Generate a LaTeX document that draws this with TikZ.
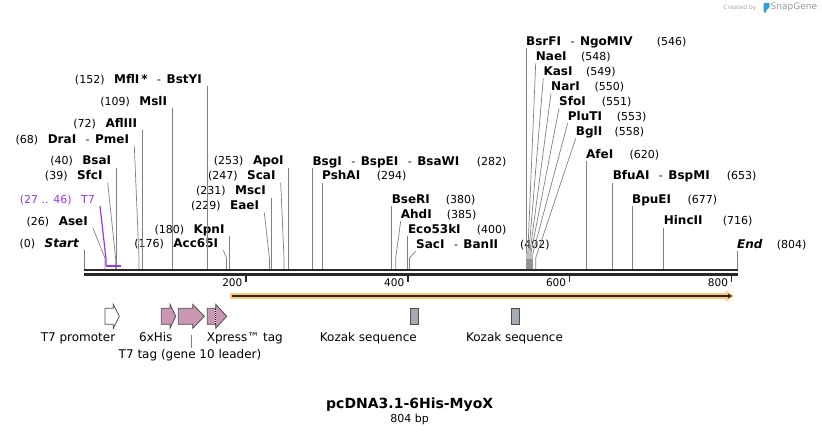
\documentclass[tikz,border=0pt]{standalone}
\usepackage{fontspec}
\setmainfont{DejaVu Sans}
\usetikzlibrary{arrows.meta}

\definecolor{cutgray}{RGB}{128,128,128}
\definecolor{bbdark}{RGB}{40,40,40}
\definecolor{t7purple}{RGB}{157,51,240}
\definecolor{featpink}{RGB}{201,151,177}
\definecolor{featedge}{RGB}{77,77,77}
\definecolor{kozakgray}{RGB}{166,170,177}
\definecolor{cdsorange}{RGB}{251,201,115}
\definecolor{snapblue}{RGB}{40,160,220}

\newcommand{\enz}[1]{{\fontsize{12}{14}\selectfont\bfseries #1}}
\newcommand{\enzsep}{\hspace{9.5pt}-\hspace{5.5pt}}

\tikzset{
  enzlab/.style={font=\fontsize{11}{13}\selectfont, text height=9pt, text depth=2pt, inner ysep=0.5pt},
  leftlab/.style={enzlab, anchor=south east, inner xsep=5pt},
  rightlab/.style={enzlab, anchor=south west, inner xsep=0pt},
  enznum/.style={enzlab, anchor=base west, inner xsep=0pt},
  cut/.style={draw=cutgray, line width=0.7pt},
  rulernum/.style={font=\fontsize{10.5}{12}\selectfont, text height=7.5pt, text depth=0pt, inner sep=0pt, anchor=east},
  featlab/.style={font=\fontsize{12}{14}\selectfont, text height=9pt, text depth=2.5pt, inner sep=1pt},
  feat/.style={draw=featedge, line width=0.8pt, fill=featpink},
}

\begin{document}
\begin{tikzpicture}[x=1pt,y=-1pt]
\useasboundingbox (0,0) rectangle (822,435);

% sites on the backbone
\coordinate (s0) at (84,270);
\coordinate (s26) at (105.0,270);
\coordinate (s39) at (115.6,270);
\coordinate (s40) at (116.4,270);
\coordinate (s68) at (139.0,270);
\coordinate (s72) at (142.3,270);
\coordinate (s109) at (172.2,270);
\coordinate (s152) at (207.0,270);
\coordinate (s176) at (226.5,270);
\coordinate (s180) at (229.7,270);
\coordinate (s229) at (269.4,270);
\coordinate (s231) at (271.0,270);
\coordinate (s247) at (284.0,270);
\coordinate (s253) at (288.8,270);
\coordinate (s282) at (312.3,270);
\coordinate (s294) at (322.0,270);
\coordinate (s380) at (391.6,270);
\coordinate (s385) at (395.7,270);
\coordinate (s400) at (407.8,270);
\coordinate (s402) at (409.4,270);
\coordinate (s546) at (526.0,270);
\coordinate (s548) at (527.6,270);
\coordinate (s549) at (528.4,270);
\coordinate (s550) at (529.2,270);
\coordinate (s551) at (530.0,270);
\coordinate (s553) at (531.6,270);
\coordinate (s558) at (535.7,270);
\coordinate (s620) at (585.9,270);
\coordinate (s653) at (612.6,270);
\coordinate (s677) at (632.0,270);
\coordinate (s716) at (663.6,270);
\coordinate (sEnd) at (737.0,270);
\coordinate (t7a) at (105.9,265.7);
\coordinate (t7b) at (121.2,265.7);

% labels left of their sites
\node[leftlab] (startlab) at (s0 |- 0,250.3) {(0)\hspace{9.5pt}\enz{\itshape Start}};
\node[leftlab] (asei) at (93,228.3) {(26)\hspace{9.5pt}\enz{AseI}};
\node[leftlab, text=t7purple] (t7lab) at (100,206) {(27 .. 46)\hspace{9.5pt}T7};
\node[leftlab] (sfci) at (107.7,182.7) {(39)\hspace{9.5pt}\enz{SfcI}};
\node[leftlab] (bsai) at (s40 |- 0,167.7) {(40)\hspace{9.5pt}\enz{BsaI}};
\node[leftlab] (drai) at (134.3,146) {(68)\hspace{9.5pt}\enz{DraI}\enzsep\enz{PmeI}};
\node[leftlab] (afliii) at (s72 |- 0,130.5) {(72)\hspace{9.5pt}\enz{AflIII}};
\node[leftlab] (msli) at (s109 |- 0,108.3) {(109)\hspace{9.5pt}\enz{MslI}};
\node[leftlab] (mfli) at (s152 |- 0,86) {(152)\hspace{9.5pt}\enz{MflI\,*}\enzsep\enz{BstYI}};
\node[leftlab] (acc65i) at (223.3,250.3) {(176)\hspace{9.5pt}\enz{Acc65I}};
\node[leftlab] (kpni) at (s180 |- 0,236) {(180)\hspace{9.5pt}\enz{KpnI}};
\node[leftlab] (eaei) at (264.3,212.7) {(229)\hspace{9.5pt}\enz{EaeI}};
\node[leftlab] (msci) at (s231 |- 0,197.7) {(231)\hspace{9.5pt}\enz{MscI}};
\node[leftlab] (scai) at (280.7,182.7) {(247)\hspace{9.5pt}\enz{ScaI}};
\node[leftlab] (apoi) at (s253 |- 0,167.7) {(253)\hspace{9.5pt}\enz{ApoI}};

% labels right of their sites
\node[rightlab] (bsgi) at (s282 |- 0,168.3) {\enz{BsgI}\enzsep\enz{BspEI}\enzsep\enz{BsaWI}};
\node[enznum] (bsginum) at (bsgi.base -| 476.7,0) {(282)};
\node[rightlab] (pshai) at (s294 |- 0,182.7) {\enz{PshAI}};
\node[enznum] (pshainum) at (pshai.base -| 376.7,0) {(294)};
\node[rightlab] (bseri) at (s380 |- 0,206) {\enz{BseRI}};
\node[enznum] (briinum) at (bseri.base -| 445.7,0) {(380)};
\node[rightlab] (ahdi) at (400.7,221) {\enz{AhdI}};
\node[enznum] (ahdinum) at (ahdi.base -| 446.7,0) {(385)};
\node[rightlab] (eco53ki) at (s400 |- 0,236) {\enz{Eco53kI}};
\node[enznum] (eco53kinum) at (eco53ki.base -| 476.7,0) {(400)};
\node[rightlab] (saci) at (416,251) {\enz{SacI}\enzsep\enz{BanII}};
\node[enznum] (sacinum) at (saci.base -| 520,0) {(402)};
\node[rightlab] (bsrfi) at (s546 |- 0,48.3) {\enz{BsrFI}\enzsep\enz{NgoMIV}};
\node[enznum] (bsrfinum) at (bsrfi.base -| 656.7,0) {(546)};
\node[rightlab] (naei) at (535.7,63.3) {\enz{NaeI}};
\node[enznum] (naeinum) at (naei.base -| 581,0) {(548)};
\node[rightlab] (kasi) at (543.3,78.3) {\enz{KasI}};
\node[enznum] (kasinum) at (kasi.base -| 586,0) {(549)};
\node[rightlab] (nari) at (551,93.3) {\enz{NarI}};
\node[enznum] (narinum) at (nari.base -| 594.3,0) {(550)};
\node[rightlab] (sfoi) at (559,108.3) {\enz{SfoI}};
\node[enznum] (sfoinum) at (sfoi.base -| 601.7,0) {(551)};
\node[rightlab] (pluti) at (567.7,123.3) {\enz{PluTI}};
\node[enznum] (plutinum) at (pluti.base -| 616.7,0) {(553)};
\node[rightlab] (bgli) at (575.7,138.3) {\enz{BglI}};
\node[enznum] (bglinum) at (bgli.base -| 614.3,0) {(558)};
\node[rightlab] (afei) at (s620 |- 0,161) {\enz{AfeI}};
\node[enznum] (afeinum) at (afei.base -| 629.3,0) {(620)};
\node[rightlab] (bfuai) at (s653 |- 0,182.7) {\enz{BfuAI}\enzsep\enz{BspMI}};
\node[enznum] (bfuainum) at (bfuai.base -| 726.7,0) {(653)};
\node[rightlab] (bpuei) at (s677 |- 0,206) {\enz{BpuEI}};
\node[enznum] (bpueinum) at (bpuei.base -| 687.3,0) {(677)};
\node[rightlab] (hincii) at (s716 |- 0,227.7) {\enz{HincII}};
\node[enznum] (hinciinum) at (hincii.base -| 722.7,0) {(716)};
\node[rightlab] (endlab) at (sEnd |- 0,251) {\enz{\itshape End}};
\node[enznum] (endnum) at (endlab.base -| 776.7,0) {(804)};

% leader lines
\draw[cut] (startlab.south east) -- (s0);
\draw[cut] (asei.south east) -- ([yshift=12pt]s26) -- (s26);
\draw[cut] (sfci.south east) -- ([yshift=12pt]s39) -- (s39);
\draw[cut] (bsai.south east) -- (s40);
\draw[cut] (drai.south east) -- ([yshift=12pt]s68) -- (s68);
\draw[cut] (afliii.south east) -- (s72);
\draw[cut] (msli.south east) -- (s109);
\draw[cut] (mfli.south east) -- (s152);
\draw[cut] (acc65i.south east) -- ([yshift=12pt]s176) -- (s176);
\draw[cut] (kpni.south east) -- (s180);
\draw[cut] (eaei.south east) -- ([yshift=12pt]s229) -- (s229);
\draw[cut] (msci.south east) -- (s231);
\draw[cut] (scai.south east) -- ([yshift=12pt]s247) -- (s247);
\draw[cut] (apoi.south east) -- (s253);
\draw[cut] (bsgi.south west) -- (s282);
\draw[cut] (pshai.south west) -- (s294);
\draw[cut] (bseri.south west) -- (s380);
\draw[cut] (ahdi.south west) -- ([yshift=12pt]s385) -- (s385);
\draw[cut] (eco53ki.south west) -- (s400);
\draw[cut] (saci.south west) -- ([yshift=12pt]s402) -- (s402);
\draw[cut] (bsrfi.south west) -- (s546);
\draw[cut] (naei.south west) -- ([yshift=12pt]s548) -- (s548);
\draw[cut] (kasi.south west) -- ([yshift=12pt]s549) -- (s549);
\draw[cut] (nari.south west) -- ([yshift=12pt]s550) -- (s550);
\draw[cut] (sfoi.south west) -- ([yshift=12pt]s551) -- (s551);
\draw[cut] (pluti.south west) -- ([yshift=12pt]s553) -- (s553);
\draw[cut] (bgli.south west) -- ([yshift=12pt]s558) -- (s558);
\draw[cut] (afei.south west) -- (s620);
\draw[cut] (bfuai.south west) -- (s653);
\draw[cut] (bpuei.south west) -- (s677);
\draw[cut] (hincii.south west) -- (s716);
\draw[cut] (endlab.south west) -- (sEnd);
\fill[gray!50] (526.3,253.5) rectangle (532.5,259);
\fill[gray!85] (526.3,259) rectangle (532.5,270);

% T7 primer site
\draw[t7purple, line width=1.2pt] (t7lab.south east) -- ([yshift=7.7pt]t7a) -- (t7a);
\draw[t7purple, line width=2pt] (t7a) -- (t7b);

% backbone and ruler
\draw[bbdark, line width=2pt] (84,270.3) -- (737.7,270.3);
\draw[bbdark, line width=3pt] (84,274.2) -- (737.7,274.2);
\draw[bbdark, line width=1.5pt] (245.9,275) -- (245.9,282.5);
\draw[bbdark, line width=1.5pt] (407.8,275) -- (407.8,282.5);
\draw[bbdark, line width=1.5pt] (569.7,275) -- (569.7,282.5);
\draw[bbdark, line width=1.5pt] (731.6,275) -- (731.6,282.5);
\node[rulernum] (r200) at (242.5,282.3) {200};
\node[rulernum] (r400) at (404.4,282.3) {400};
\node[rulernum] (r600) at (566.3,282.3) {600};
\node[rulernum] (r800) at (728.2,282.3) {800};

% ORF
\fill[cdsorange] (230,293) rectangle (726,299);
\fill[cdsorange] (726,290.5) -- (734,296) -- (726,301.5) -- cycle;
\draw[bbdark, line width=1.2pt, -{Triangle[length=4pt,width=4.5pt]}] (232,296) -- (732,296);

% features
\draw[draw=featedge, line width=0.8pt, fill=white] (105,308.3) -- (113.3,308.3) -- (113.3,304.3) -- (119.3,316.3) -- (113.3,328.3) -- (113.3,324.3) -- (105,324.3) -- cycle;
\draw[feat] (161.3,308.3) -- (170,308.3) -- (170,304.3) -- (175.7,316.3) -- (170,328.3) -- (170,324.3) -- (161.3,324.3) -- cycle;
\draw[feat] (178.3,308.3) -- (192.7,308.3) -- (192.7,304.3) -- (204.3,316.3) -- (192.7,328.3) -- (192.7,324.3) -- (178.3,324.3) -- cycle;
\draw[feat] (207.3,308.3) -- (215.7,308.3) -- (215.7,304.3) -- (226.7,316.3) -- (215.7,328.3) -- (215.7,324.3) -- (207.3,324.3) -- cycle;
\draw[white, line width=1.2pt] (215.7,308.8) -- (215.7,323.8);
\draw[black, line width=1.2pt, dash pattern=on 1pt off 1pt] (215.7,308.8) -- (215.7,323.8);
\draw[draw=featedge, line width=0.8pt, fill=kozakgray] (410,308.3) rectangle (418.7,324.3);
\draw[draw=featedge, line width=0.8pt, fill=kozakgray] (511,308.3) rectangle (519.7,324.3);

\node[featlab] (t7promlab) at (78,338.5) {T7 promoter};
\node[featlab] (hislab) at (155.8,338.5) {6xHis};
\node[featlab] (xpresslab) at (244.8,338.5) {Xpress™ tag};
\node[featlab] (kozakonelab) at (368.3,338.5) {Kozak sequence};
\node[featlab] (kozaktwolab) at (514.5,338.5) {Kozak sequence};
\node[featlab] (t7taglab) at (190,354.8) {T7 tag (gene 10 leader)};
\coordinate (t7tagc) at (191.3,335);
\draw[cut] (t7tagc) -- (t7tagc |- t7taglab.north);

% title
\node[font=\fontsize{14}{16}\selectfont\bfseries] (title) at (409.7,404.5) {pcDNA3.1-6His-MyoX};
\node[font=\fontsize{11}{13}\selectfont] (bplab) at (409.7,419.3) {804 bp};

% credit
\node[font=\fontsize{6}{7}\selectfont, text=gray!70, anchor=east, inner xsep=0pt] (createdby) at (756.7,7.5) {Created by};
\fill[snapblue, rounded corners=1.2pt] (763.5,2.8) -- (769.5,2.8) -- (769.5,8) -- (766.2,9.5) -- (766.2,13.3) -- (763.5,12) -- cycle;
\node[font=\fontsize{9}{10}\selectfont, text=gray!80, anchor=west, inner xsep=0pt] (snapgene) at (770.5,7.5) {SnapGene};
\end{tikzpicture}
\end{document}
